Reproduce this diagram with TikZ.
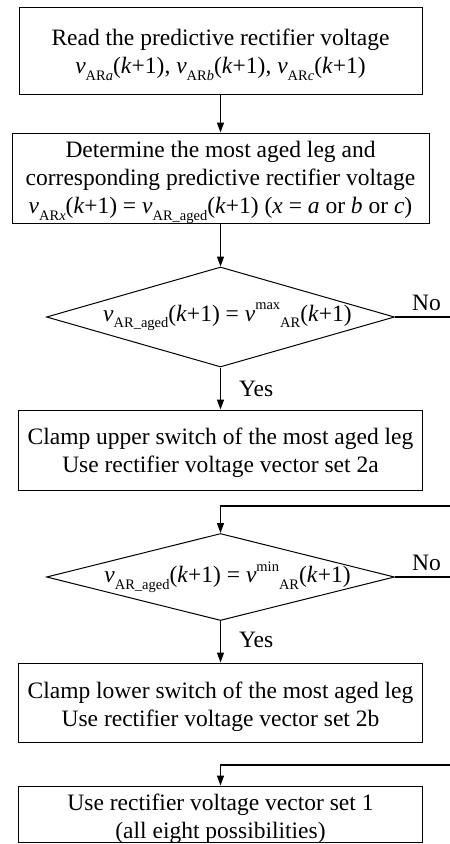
\documentclass[tikz,border=0pt]{standalone}
\usepackage{fontspec}
\setmainfont{Liberation Serif}
\usetikzlibrary{shapes.geometric,arrows.meta}
\newcommand\sbs[1]{\raisebox{-0.28em}{\fontsize{14.5}{14.5}\selectfont #1}}
\newcommand\sps[1]{\raisebox{0.48em}{\fontsize{14.5}{14.5}\selectfont #1}}
\newcommand\vv{\textit{v}}
\newcommand\kp{(\textit{k}+1)}
\begin{document}
\begin{tikzpicture}[x=1pt,y=-1pt,
  font=\fontsize{23.5}{28}\selectfont,
  box/.style={draw, line width=1pt, rectangle, inner sep=0pt},
  btext/.style={inner sep=0pt, align=center, yshift=-4.5pt},
  dia/.style={draw, line width=1pt, diamond, inner sep=0pt, minimum width=348pt},
  lbl/.style={inner sep=0pt},
  conn/.style={line width=1.2pt},
  arr/.style={conn, -{Triangle[length=10pt,width=7pt]}}]
\useasboundingbox (0,0) rectangle (450,844);
\node[box, minimum width=403pt, minimum height=87pt] (b1) at (220.5,50.5) {};
\node[btext] (t1) at (b1.center)
  {Read the predictive rectifier voltage\\
   \vv\sbs{AR\textit{a}}\kp, \vv\sbs{AR\textit{b}}\kp, \vv\sbs{AR\textit{c}}\kp};
\node[box, minimum width=417pt, minimum height=90pt] (b2) at (220.5,178) {};
\node[btext] (t2) at (b2.center)
  {Determine the most aged leg and\\
   corresponding predictive rectifier voltage\\
   \vv\sbs{AR\textit{x}}\kp{} = \vv\sbs{AR\_aged}\kp{} (\textit{x} = \textit{a} or \textit{b} or \textit{c})};
\node[dia, minimum height=100pt] (d1) at (220.5,317) {};
\node[lbl] (q1) at ([xshift=7pt]d1.center)
  {\vv\sbs{AR\_aged}\kp{} = \vv\sps{max}\sbs{AR}\kp};
\node[box, minimum width=404pt, minimum height=80pt] (b3) at (220.5,450) {};
\node[btext, yshift=1.5pt] (t3) at (b3.center)
  {Clamp upper switch of the most aged leg\\
   Use rectifier voltage vector set 2a};
\node[dia, minimum height=87pt] (d2) at (220.5,577) {};
\node[lbl] (q2) at ([xshift=7pt]d2.center)
  {\vv\sbs{AR\_aged}\kp{} = \vv\sps{min}\sbs{AR}\kp};
\node[box, minimum width=404pt, minimum height=79pt] (b4) at (220.5,702.5) {};
\node[btext] (t4) at (b4.center)
  {Clamp lower switch of the most aged leg\\
   Use rectifier voltage vector set 2b};
\node[box, minimum width=404pt, minimum height=56pt] (b5) at (220.5,814) {};
\node[btext] (t5) at (b5.center)
  {Use rectifier voltage vector set 1\\
   (all eight possibilities)};
\coordinate (e1) at (450,317);
\coordinate (c1) at (450,506);
\coordinate (e2) at (450,577);
\coordinate (c2) at (450,765);
\draw[arr] (b1.south) -- (b2.north);
\draw[arr] (b2.south) -- (d1.north);
\draw[conn] (d1.east) -- node[lbl, above=6pt, xshift=4pt] {No} (e1);
\draw[arr] (d1.south) -- node[lbl, anchor=west, xshift=18pt] {Yes} (b3.north);
\draw[arr] (c1) -| (d2.north);
\draw[conn] (d2.east) -- node[lbl, above=6pt, xshift=4pt] {No} (e2);
\draw[arr] (d2.south) -- node[lbl, anchor=west, xshift=18pt, yshift=2pt] {Yes} (b4.north);
\draw[arr] (c2) -| (b5.north);
\end{tikzpicture}
\end{document}
